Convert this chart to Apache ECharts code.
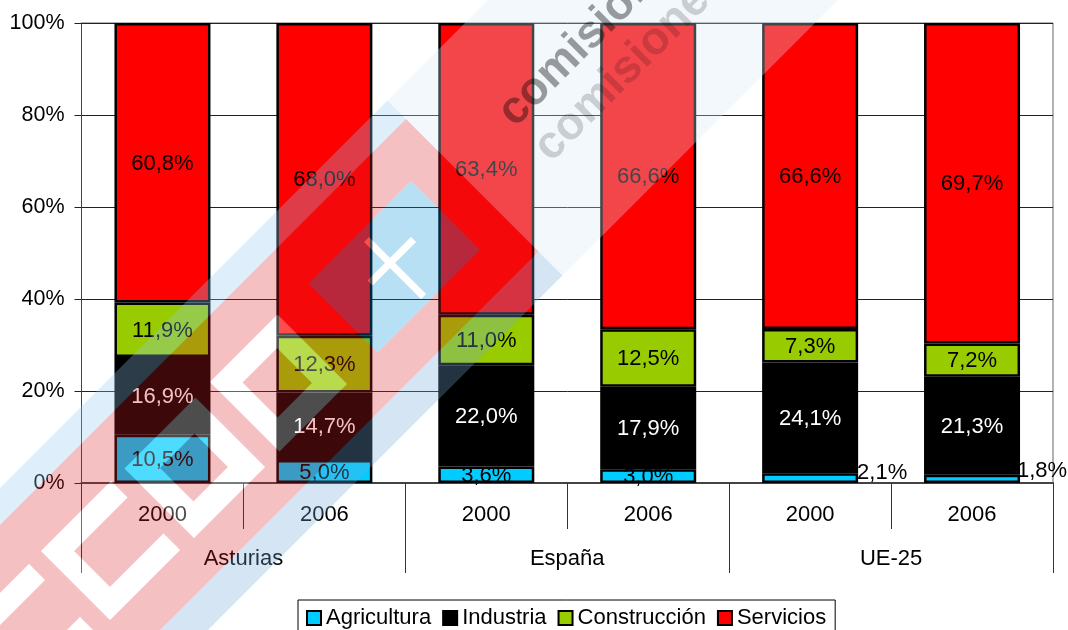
<!DOCTYPE html>
<html>
<head>
<meta charset="utf-8">
<title>Asturias</title>
<script src="https://cdn.jsdelivr.net/npm/echarts@6/dist/echarts.min.js"></script>
<style>
html,body{margin:0;padding:0;background:#fff;}
#main{width:1068px;height:630px;}
</style>
</head>
<body>
<div id="main"></div>
<script>
//datos
var years = ['2000','2006','2000','2006','2000','2006'];
var regions = ['Asturias','España','UE-25'];
var yTicks = [0,20,40,60,80,100];
var seriesNames = ['Agricultura','Industria','Construcción','Servicios'];
var agricultura = [10.5,5.0,3.6,3.0,2.1,1.8];
var industria = [16.9,14.7,22.0,17.9,24.1,21.3];
var construccion = [11.9,12.3,11.0,12.5,7.3,7.2];
var servicios = [60.8,68.0,63.4,66.6,66.6,69.7];

var FONT = '"Liberation Sans", Arial, sans-serif';
var values = [agricultura,industria,construccion,servicios];
var colors = ['#00ccff','#000000','#99cc00','#ff0000'];
var labelColors = ['#000','#fff','#000','#000'];

function pct(v){ return v.toFixed(1).replace('.',',')+'%'; }
//apilado al 100%, como en Excel
function share(s,i){
	var total = 0;
	for(var k=0;k<values.length;k++){ total += values[k][i]; }
	return values[s][i]/total*100;
}

var series = [];
values.forEach(function(list,s){
	series.push({
		name:seriesNames[s],
		type:'bar',
		stack:'total',
		barWidth:96,
		xAxisIndex:0,
		itemStyle:{color:colors[s],borderColor:'#000',borderWidth:2.5},
		label:{show:true,position:'inside',color:labelColors[s],fontSize:22,fontFamily:FONT,offset:[0,1],
			formatter:function(p){ return pct(list[p.dataIndex]); }},
		data:list.map(function(v,i){
			var item = {value:share(s,i)};
			//etiquetas pequeñas de UE-25 van fuera de la barra
			if(s===0 && i===4){ item.label = {offset:[72,-5]}; }
			if(s===0 && i===5){ item.label = {offset:[70,-8]}; }
			return item;
		})
	});
});

//forma con huecos para la marca de agua
echarts.graphic.registerShape('loops',echarts.graphic.extendShape({
	shape:{loops:[]},
	buildPath:function(ctx,shape){
		shape.loops.forEach(function(p){
			ctx.moveTo(p[0][0],p[0][1]);
			for(var i=1;i<p.length;i++){ ctx.lineTo(p[i][0],p[i][1]); }
			ctx.closePath();
		});
	}
}));

//marca de agua: coordenadas giradas 45 grados, u=x+y, v=x-y
function pt(u,v){ return [(u+v)/2,(u-v)/2]; }
function loop(list,reverse){
	var p = list.slice();
	if(reverse){ p.reverse(); }
	return [p.map(function(q){ return pt(q[0],q[1]); })];
}
function box(u0,u1,v0,v1){ return [[u0,v0],[u1,v0],[u1,v1],[u0,v1]]; }

var letterC = [[592,-510],[730,-510],[730,-370],[697,-370],[697,-477],[625,-477],[625,-370],[592,-370]];
var cross = [[606,122],[648,122],[648,87],[658,87],[658,122],[720,122],[720,132],[658,132],[658,174],[648,174],[648,132],[606,132]];
function letters(rev){
	return [].concat(
		loop(box(593,625,-800,-535),rev),
		loop(box(697,730,-800,-537),rev),
		loop(letterC,rev),
		loop(box(593,732,-344,-202),rev),
		loop(box(628,695,-308,-239),!rev),
		loop(box(592,731,-172,-37),rev),
		loop(box(625,695,-140,-71),!rev)
	);
}
function wmPath(loops,fill){
	return {type:'loops',z:100,silent:true,shape:{loops:loops},style:{fill:fill}};
}
function wmText(t,x,y,size,weight,fill){
	return {type:'text',z:101,silent:true,x:x,y:y,rotation:Math.PI/4,
		style:{text:t,x:0,y:0,fill:fill,font:weight+' '+size+'px '+FONT,verticalAlign:'middle',
			shadowColor:fill,shadowBlur:4}};
}
var watermark = [
	wmPath(loop(box(488,525,-800,287)),'rgba(146,200,243,0.3)'),
	wmPath(loop(box(790,838,-800,287)),'rgba(120,170,220,0.3)'),
	wmPath(loop(box(488,838,287,900)),'rgba(215,232,250,0.3)'),
	wmPath([].concat(loop(box(525,790,-800,287)),letters(true),loop(box(592,730,25,230),true)),'rgba(216,29,36,0.28)'),
	wmPath(letters(false),'rgba(255,255,255,0.3)'),
	wmPath([].concat(loop(box(592,730,25,230)),loop(cross,true)),'rgba(0,144,216,0.28)'),
	wmPath(loop(cross),'rgba(255,255,255,0.3)'),
	wmText('comisiones',506,119,46,'bold','rgba(0,0,0,0.38)'),
	wmText('comisiones',542,154,46,'bold','rgba(0,0,0,0.17)')
];

var option = {
	animation:false,
	backgroundColor:'#fff',
	textStyle:{fontFamily:FONT},
	grid:{left:81.5,right:15,top:23,bottom:147,show:true,borderColor:'#666',borderWidth:1,backgroundColor:'transparent'},
	legend:{
		left:298,top:600,
		data:seriesNames,
		icon:'rect',itemWidth:14,itemHeight:14,itemGap:11,
		padding:[7,9,10,8],
		borderColor:'#000',borderWidth:1,
		textStyle:{fontSize:22,fontFamily:FONT,color:'#000'},
		itemStyle:{borderColor:'#000',borderWidth:2}
	},
	xAxis:[
		{type:'category',data:years,position:'bottom',
			axisLine:{lineStyle:{color:'#444',width:2}},
			axisTick:{show:true,length:46,lineStyle:{color:'#333'},
				interval:function(i){ return i%2===1; }},
			axisLabel:{color:'#000',fontSize:22,fontFamily:FONT,margin:21}},
		{type:'category',data:regions,position:'bottom',
			axisLine:{show:false},
			axisTick:{show:true,length:90,lineStyle:{color:'#333'}},
			axisLabel:{color:'#000',fontSize:22,fontFamily:FONT,margin:65}}
	],
	yAxis:{
		type:'value',min:yTicks[0],max:yTicks[yTicks.length-1],interval:yTicks[1]-yTicks[0],
		axisLine:{show:true,lineStyle:{color:'#444'}},
		axisTick:{show:true,length:7,lineStyle:{color:'#222'}},
		axisLabel:{color:'#000',fontSize:21.5,fontFamily:FONT,margin:17,padding:[2,0,0,0],formatter:'{value}%'},
		splitLine:{show:true,lineStyle:{color:'#222',width:1}}
	},
	series:series,
	graphic:watermark
};

var myChart = echarts.init(document.getElementById('main'));
myChart.setOption(option);
</script>
</body>
</html>
